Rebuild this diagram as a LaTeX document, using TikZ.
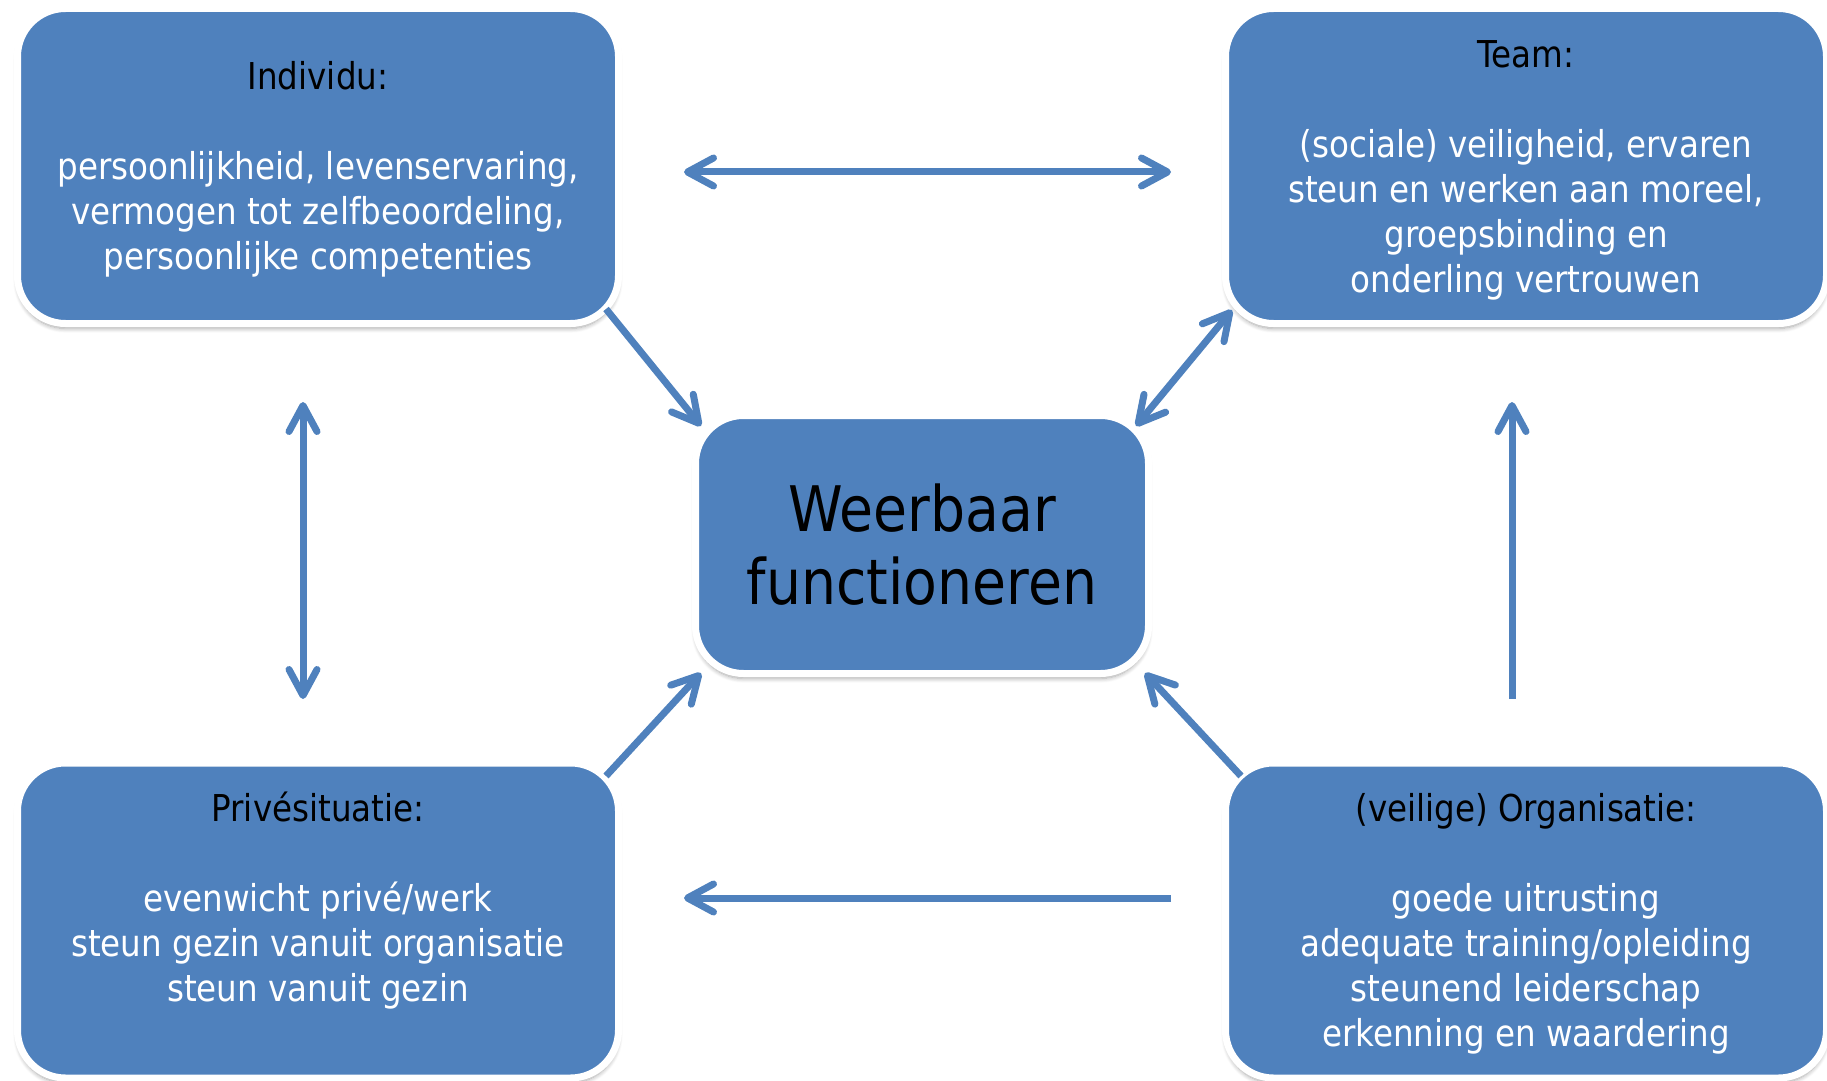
\documentclass[tikz,border=0pt]{standalone}
\usepackage{fontspec}
\setmainfont{DejaVu Sans}[FakeStretch=0.88]
\usepackage{tikz}
\usetikzlibrary{arrows.meta,shadows.blur}
\definecolor{boxblue}{HTML}{4F81BD}
\newcommand{\kop}[1]{\textcolor{black}{\rule{0pt}{17.5pt}#1}}

\begin{document}
\begin{tikzpicture}[x=0.5pt, y=-0.5pt,
   >={Straight Barb[length=13pt, width=14pt, round]},
   box/.style={rectangle, rounded corners=24pt, fill=boxblue, draw=white, line width=3.5pt,
     outer sep=0pt, text=white, align=center, font=\fontsize{18.5}{22.5}\selectfont,
     blur shadow={shadow xshift=0pt, shadow yshift=-2.5pt, shadow blur steps=8, shadow opacity=35}},
   side/.style={box, minimum width=300.5pt, minimum height=157.5pt},
   link/.style={draw=boxblue, line width=3.5pt}]
   \useasboundingbox (0, 0) rectangle (1827, 1081);
   \node [side] (Ind) at (318, 166) {\kop{Individu:}\\ \\ persoonlijkheid, levenservaring,\\ vermogen tot zelfbeoordeling,\\ persoonlijke competenties};
   \node [side] (Team) at (1526, 166) {\kop{Team:}\\ \\ (sociale) veiligheid, ervaren\\ steun en werken aan moreel,\\ groepsbinding en\\ onderling vertrouwen};
   \node [side] (Priv) at (318, 920.5) {\kop{Privésituatie:}\\ \\ evenwicht privé/werk\\ steun gezin vanuit organisatie\\ steun vanuit gezin\\ \rule[-4.5pt]{0pt}{4.5pt}};
   \node [side] (Org) at (1526, 920.5) {\kop{(veilige) Organisatie:}\\ \\ goede uitrusting\\ adequate training/opleiding\\ steunend leiderschap\\ erkenning en waardering};
   \node [box, minimum width=226.5pt, minimum height=129pt, text=black,
     font=\fontsize{31.4}{36.5}\selectfont] (Wf) at (922, 544.5) {Weerbaar\\ functioneren};
   \draw [link, <->] ([shift={(65.5, 6)}]Ind.east) -- ([shift={(-54.5, 6)}]Team.west);
   \draw [link, ->] ([shift={(-54.5, -22.5)}]Org.west) -- ([shift={(65.5, -22.5)}]Priv.east);
   \draw [link, <->] ([shift={(-15, 78.5)}]Ind.south) -- ([shift={(-15, -64)}]Priv.north);
   \draw [link, ->] ([shift={(-14, -64)}]Org.north) -- ([shift={(-14, 78.5)}]Team.south);
   \draw [link, ->] ([shift={(-12.5, -14.5)}]Ind.south east) -- ([shift={(5.5, 10.5)}]Wf.north west);
   \draw [link, <->] ([shift={(6.5, -13.5)}]Team.south west) -- ([shift={(-12.5, 10.5)}]Wf.north east);
   \draw [link, ->] ([shift={(-12.5, 13)}]Priv.north east) -- ([shift={(5.5, -0.5)}]Wf.south west);
   \draw [link, ->] ([shift={(15.5, 13)}]Org.north west) -- ([shift={(-3.5, -0.5)}]Wf.south east);
\end{tikzpicture}
\end{document}
